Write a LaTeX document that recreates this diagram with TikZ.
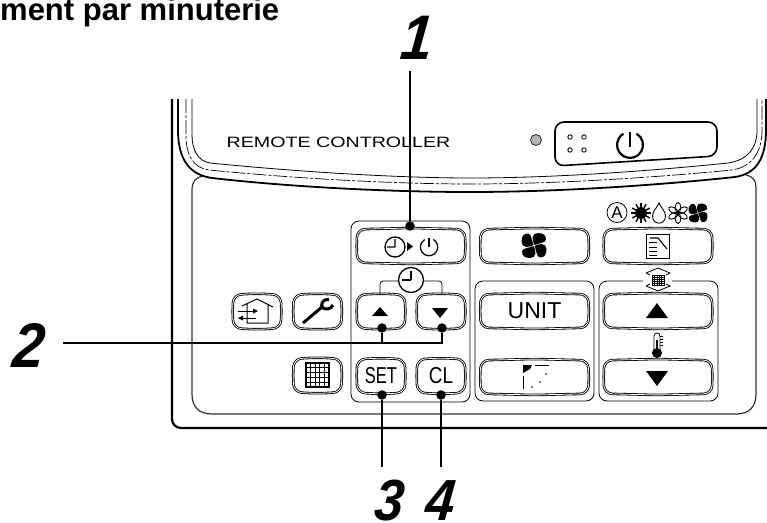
\documentclass[tikz,border=0pt]{standalone}
\usepackage{fontspec}
\setmainfont{Liberation Sans}
\newfontfamily\panelfont[FakeStretch=1.31]{Liberation Sans}
\newfontface\calloutfont[FakeSlant=0.1,FakeStretch=0.9]{Liberation Sans Bold Italic}
\usetikzlibrary{calc}
\definecolor{ledgrey}{HTML}{B4B4B4}
\definecolor{panelgrey}{HTML}{333333}
\tikzset{
  fanblades/.pic={
    \foreach \a in {0,90,180,270}
      \fill[rotate=\a] (0.04,-0.04) .. controls (-0.2,-0.4) and (-0.2,-1) .. (0.3,-1) .. controls (0.75,-1) and (1,-0.8) .. (0.95,-0.45) .. controls (0.9,-0.2) and (0.4,-0.2) .. (0.04,-0.04);
  }
}
\begin{document}
\begin{tikzpicture}[
  x=1pt, y=-1pt,
  btn/.style={inner sep=0pt, font=\fontsize{23}{23}\selectfont},
  btnline/.style={draw=black, double=white, double distance=0.8pt, line width=0.85pt, rounded corners=8pt},
  widebtn/.style={btn, minimum width=107pt, minimum height=33pt},
  smallbtn/.style={btn, minimum width=47pt, minimum height=33pt},
  frame/.style={draw=black, line width=0.8pt, rounded corners=8pt},
  dot/.style={circle, fill=black, inner sep=0pt, minimum size=9.5pt},
  callout/.style={font=\calloutfont\fontsize{63}{63}\selectfont, anchor=base, inner sep=0pt},
  smallcallout/.style={callout, font=\calloutfont\fontsize{58}{58}\selectfont},
  lead/.style={line width=1.9pt},
  tri/.style={fill=black},
  icon/.style={line width=0.9pt}
]
\useasboundingbox (0,0) rectangle (767,522);
\node[font=\fontsize{31}{31}\selectfont\bfseries, anchor=base west, inner sep=0pt] (title) at (0,20) {ment par minuterie};
\draw[line width=2.2pt, rounded corners=9pt] (172,99) -- (172,428) -- (767,428);
\draw[draw=panelgrey, line width=1.2pt] (204,176) .. controls (196,177) and (192,181) .. (192,190) -- (192,394) .. controls (192,407) and (199,414) .. (212,414) -- (736,414) .. controls (749,414) and (756,407) .. (756,394) -- (756,187) .. controls (756,180) and (752,176) .. (746,175);
\draw[line width=1.8pt] (178,99) -- (178,130) .. controls (178,160) and (190,175) .. (212,178) .. controls (300,188) and (400,192) .. (470,192) .. controls (560,192) and (660,185) .. (735,177) .. controls (755,174) and (766,160) .. (766,130) -- (766,99);
\draw[line width=0.7pt, dash pattern=on 14pt off 2pt on 3pt off 2pt] (186,99) -- (186,135) .. controls (186,155) and (193,168) .. (209,170) .. controls (300,179) and (400,184) .. (470,184) .. controls (560,184) and (660,177) .. (732,170) .. controls (752,167) and (762,152) .. (762,130) -- (762,99);
\draw[line width=0.8pt] (192,99) -- (192,135) .. controls (192,150) and (198,161) .. (210,163) .. controls (300,172) and (400,178) .. (470,178) .. controls (560,178) and (660,170) .. (728,163) .. controls (748,160) and (757,148) .. (757,130) -- (757,99);
\node[font=\panelfont\fontsize{15}{15}\selectfont, inner sep=0pt] (brand) at (338.5,142) {REMOTE CONTROLLER};
\node[circle, draw=black, fill=ledgrey, line width=0.6pt, inner sep=0pt, minimum size=11pt] (led) at (536,140) {};
\draw[line width=1.6pt, rounded corners=9pt] (555,122) -- (717,122) -- (717,156) -- (555,166) -- cycle;
\foreach \x in {570,584} \foreach \y in {137,150} \draw[line width=0.9pt] (\x,\y) circle (2.2);
\draw[line width=2.2pt] (630,132) -- (630,147);
\draw[line width=2.2pt] (636.5,133.7) arc[start angle=60, delta angle=-300, radius=13pt];
% groups
\draw[frame] (351,221) rectangle (470,402);
\draw[frame] (475,281) rectangle (594,401);
\draw[frame] (643,281) -- (599,281) -- (599,401) -- (718,401) -- (718,281) -- (672,281);
% buttons
\node[widebtn] (timer) at (411,246) {};
\node[widebtn] (fan) at (534.5,246) {};
\node[widebtn] (mode) at (658,246) {};
\node[smallbtn] (house) at (257,311.5) {};
\node[smallbtn] (wrench) at (317.5,311.5) {};
\node[smallbtn] (up) at (381,311.5) {};
\node[smallbtn] (down) at (441,311.5) {};
\node[smallbtn] (grid) at (317.5,375.5) {};
\node[smallbtn] (set) at (381,376) {\scalebox{0.72}[1]{SET}};
\node[smallbtn] (cl) at (441,376) {\scalebox{0.82}[1]{CL}};
\node[widebtn] (unit) at (534.5,311) {UNIT};
\node[widebtn] (louver) at (534.5,377) {};
\node[widebtn] (tempup) at (658,311) {};
\node[widebtn] (tempdown) at (658,377) {};
\foreach \n in {timer,fan,mode,house,wrench,up,down,grid,set,cl,unit,louver,tempup,tempdown}
  \draw[btnline] (\n.north west) -- ($(\n.north)+(0,-1.3)$) -- (\n.north east) -- ($(\n.east)+(0.8,0)$) -- (\n.south east) -- ($(\n.south)+(0,1.3)$) -- (\n.south west) -- ($(\n.west)+(-0.8,0)$) -- cycle;
% timer icons
\draw[line width=1.3pt] (395,247) circle (10) (395,247) -- (395,239) (395,247) -- (387,247);
\fill (407,242) -- (413,246.5) -- (407,251) -- cycle;
\draw[line width=1.3pt] (429,238) -- (429,247);
\draw[line width=1.3pt] (433.4,239.5) arc[start angle=60, delta angle=-300, radius=8.7pt];
\draw[line width=1.3pt, fill=white] (411,280) circle (12.5);
\draw[line width=1.6pt] (411,280) -- (411,271) (411,280) -- (402,280);
\draw[line width=0.8pt, rounded corners=3pt] (380,294) -- (380,281) -- (398,281);
\draw[line width=0.8pt, rounded corners=3pt] (442,294) -- (442,281) -- (424,281);
\fill[tri] (372,316) -- (380,307) -- (388,316) -- cycle;
\fill[tri] (432,308) -- (448,308) -- (440,318) -- cycle;
% fans
\pic[scale=12.5] at (534,245.5) {fanblades};
\pic[scale=9.5] at (698,213) {fanblades};
% mode icons
\draw[line width=0.8pt] (617,212.5) circle (10);
\node[font=\fontsize{17}{17}\selectfont, inner sep=0pt] (autoa) at (617,212.5) {A};
\fill (641,213) circle (6);
\foreach \a in {0,30,...,330} \draw[line width=1.4pt, shift={(641,213)}] (\a:6) -- (\a:10);
\draw[icon] (659,203) .. controls (661,208) and (665.5,211) .. (665.5,216) .. controls (665.5,225.5) and (652.5,225.5) .. (652.5,216) .. controls (652.5,211) and (657,208) .. (659,203) -- cycle;
\foreach \a in {0,60,...,300} \draw[icon, rotate around={\a:(678,213)}] (678,207.5) ellipse (2.8 and 5);
\draw[line width=0.8pt] (646,234) rectangle (669,258);
\foreach \y in {242,247,251,255} \draw[line width=0.8pt] (649,\y) -- (657,\y);
\draw[line width=1.1pt] (650,238) -- (658,238) -- (667,249);
% temperature icons
\draw[line width=0.8pt] (646,273) -- (658,268) -- (670,273) -- (666,275) (646,273) -- (650,275) (646,286) -- (658,291) -- (670,286) -- (666,284) (646,286) -- (650,284);
\draw[line width=0.7pt] (652,275) rectangle (664,285);
\foreach \i in {654.4,656.8,659.2,661.6} \draw[line width=0.4pt] (\i,275) -- (\i,285);
\foreach \i in {277,279,281,283} \draw[line width=0.4pt] (652,\i) -- (664,\i);
\fill[tri] (646,318) -- (657,303) -- (668,318) -- cycle;
\fill[tri] (646,371) -- (668,371) -- (657,386) -- cycle;
\draw[line width=0.8pt] (654,351) -- (654,336) .. controls (654,332) and (660,332) .. (660,336) -- (660,351);
\fill (657,353) circle (5);
\draw[line width=1.6pt] (657,340) -- (657,353);
\foreach \y in {336,339,342,345} \draw[line width=0.5pt] (660,\y) -- (663,\y);
% louver icon
\draw[line width=1.2pt] (523.5,376) -- (523.5,389);
\fill (523,365) -- (532,365) -- (530,369) -- (523,373) -- cycle;
\draw[line width=1.1pt] (535,365.5) -- (548.5,365.5);
\fill (546,374) circle (0.9) (540,382) circle (0.9) (532,387) circle (0.9);
% house, wrench, grid
\draw[line width=1pt] (242,306) -- (257,299) -- (273,307) (268,305) -- (268,323) -- (247,323) -- (247,304);
\draw[line width=1pt] (238,311) -- (256,311);
\fill (258,311) -- (253,308.5) -- (253,313.5) -- cycle;
\draw[line width=1pt] (256,318) -- (239,318);
\fill (238,318) -- (243,315.5) -- (243,320.5) -- cycle;
\draw[line width=3pt] (303,323) -- (322,307);
\draw[line width=3pt] (329,299.5) .. controls (322,299) and (320,305) .. (323,308) .. controls (326,310) and (331,309) .. (333,305);
\foreach \i in {1,...,4} {
  \draw[line width=0.7pt] ({306+\i*4.6},363) -- ({306+\i*4.6},387);
  \draw[line width=0.7pt] (306,{363+\i*4.8}) -- (329,{363+\i*4.8});
}
\draw[line width=1.8pt] (306,363) rectangle (329,387);
% call-outs
\node[dot] (dotone) at (410,226) {};
\node[dot] (dotup) at (382,328) {};
\node[dot] (dotdown) at (442,328) {};
\node[dot] (dotset) at (382,395) {};
\node[dot] (dotcl) at (441,395) {};
\node[callout] (labone) at (415,59) {1};
\node[callout] (labtwo) at (27,367) {2};
\node[smallcallout] (labthree) at (388,520) {3};
\node[smallcallout] (labfour) at (439,520) {4};
\coordinate (endone) at (410,71);
\coordinate (endtwo) at (63,343);
\coordinate (endthree) at (382,467);
\coordinate (endfour) at (441,467);
\draw[lead] (dotone) -- (endone);
\draw[lead] (endtwo) -| (dotup);
\draw[lead] (dotup |- endtwo) -| (dotdown);
\draw[lead] (dotset) -- (endthree);
\draw[lead] (dotcl) -- (endfour);
\end{tikzpicture}
\end{document}
